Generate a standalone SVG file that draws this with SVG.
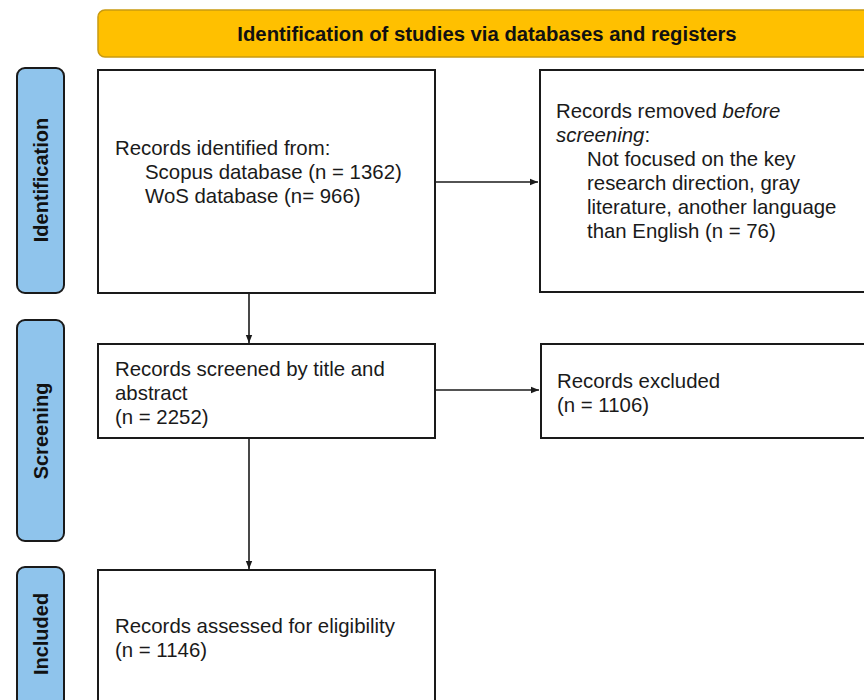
<svg xmlns="http://www.w3.org/2000/svg" width="864" height="700" viewBox="0 0 864 700">
<defs>
<style>
.box{fill:#fff;stroke:#1a1a1a;stroke-width:2}
.side{fill:#8fc4ec;stroke:#1a1a1a;stroke-width:2}
.t{font-family:"Liberation Sans",Arial,sans-serif;font-size:20.4px;fill:#1a1a1a}
.st{font-family:"Liberation Sans",Arial,sans-serif;font-size:20px;font-weight:bold;fill:#111}
.hd{font-family:"Liberation Sans",Arial,sans-serif;font-size:20.3px;font-weight:bold;fill:#111}
.conn{stroke:#1a1a1a;stroke-width:1.6;fill:none}
</style>
<marker id="ah" viewBox="0 0 10 10" refX="10" refY="5" markerWidth="8" markerHeight="8" orient="auto" markerUnits="userSpaceOnUse">
<path d="M0,1 L10,5 L0,9 z" fill="#1a1a1a"/>
</marker>
</defs>
<rect width="864" height="700" fill="#fff"/>

<g id="header">
<rect x="98" y="10" width="790" height="47" rx="7" fill="#ffc000" stroke="#c99a10" stroke-width="1.5"/>
<text class="hd" x="487" y="41" text-anchor="middle">Identification of studies via databases and registers</text>
</g>

<g id="side-identification">
<rect class="side" x="17" y="68" width="47" height="225" rx="8"/>
<text class="st" transform="translate(48,180) rotate(-90)" text-anchor="middle">Identification</text>
</g>
<g id="side-screening">
<rect class="side" x="17" y="320" width="47" height="221" rx="8"/>
<text class="st" transform="translate(48,431) rotate(-90)" text-anchor="middle">Screening</text>
</g>
<g id="side-included">
<rect class="side" x="17" y="567" width="47" height="140" rx="8"/>
<text class="st" transform="translate(48,634) rotate(-90)" text-anchor="middle">Included</text>
</g>

<g id="identified">
<rect class="box" x="98" y="70" width="337" height="223"/>
<text class="t" x="115" y="155">Records identified from:</text>
<text class="t" x="145" y="179">Scopus database (n = 1362)</text>
<text class="t" x="145" y="203">WoS database (n= 966)</text>
</g>

<g id="removed">
<rect class="box" x="540" y="70" width="340" height="222"/>
<text class="t" x="556" y="118">Records removed <tspan font-style="italic">before</tspan></text>
<text class="t" x="556" y="142"><tspan font-style="italic">screening</tspan>:</text>
<text class="t" x="587" y="166">Not focused on the key</text>
<text class="t" x="587" y="190">research direction, gray</text>
<text class="t" x="587" y="214">literature, another language</text>
<text class="t" x="587" y="238">than English (n = 76)</text>
</g>

<g id="screened">
<rect class="box" x="98" y="344" width="337" height="94"/>
<text class="t" x="115" y="376">Records screened by title and</text>
<text class="t" x="115" y="400">abstract</text>
<text class="t" x="115" y="424">(n = 2252)</text>
</g>

<g id="excluded">
<rect class="box" x="541" y="344" width="340" height="94"/>
<text class="t" x="557" y="388">Records excluded</text>
<text class="t" x="557" y="412">(n = 1106)</text>
</g>

<g id="assessed">
<rect class="box" x="98" y="570" width="337" height="140"/>
<text class="t" x="115" y="633">Records assessed for eligibility</text>
<text class="t" x="115" y="657">(n = 1146)</text>
</g>

<g id="connectors">
<line class="conn" x1="436" y1="182" x2="538" y2="182" marker-end="url(#ah)"/>
<line class="conn" x1="436" y1="390" x2="539" y2="390" marker-end="url(#ah)"/>
<line class="conn" x1="249" y1="294" x2="249" y2="343" marker-end="url(#ah)"/>
<line class="conn" x1="249" y1="439" x2="249" y2="569" marker-end="url(#ah)"/>
</g>
</svg>
